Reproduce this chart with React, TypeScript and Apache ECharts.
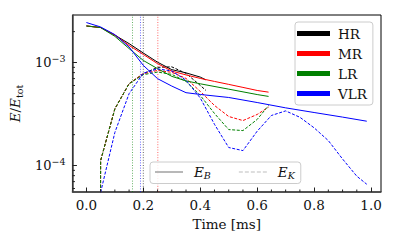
import React, { useEffect, useRef } from 'react';
import * as echarts from 'echarts';

// ---- data (time in ms, energy fraction) ----
const T_HR_B = [0, 0.05, 0.1, 0.15, 0.2, 0.25, 0.3, 0.35, 0.4, 0.42];
const HR_B = [2.27e-3, 2.19e-3, 1.85e-3, 1.53e-3, 1.24e-3, 1.01e-3, 8.55e-4, 7.96e-4, 7.24e-4, 6.8e-4];
const T_HR_K = [0.048, 0.05, 0.1, 0.15, 0.2, 0.25, 0.3, 0.35, 0.4, 0.42];
const HR_K = [1e-6, 1.12e-4, 3.56e-4, 6.25e-4, 7.81e-4, 9.0e-4, 9.1e-4, 7.87e-4, 6.01e-4, 5.37e-4];

const T_MR_B = [0, 0.05, 0.1, 0.15, 0.2, 0.25, 0.3, 0.35, 0.4, 0.45, 0.5, 0.55, 0.6, 0.64];
const MR_B = [2.27e-3, 2.19e-3, 1.85e-3, 1.47e-3, 1.2e-3, 9.78e-4, 8.28e-4, 7.6e-4, 7.03e-4, 6.57e-4, 6.15e-4, 5.75e-4, 5.37e-4, 5.17e-4];
const T_MR_K = [0.048, 0.05, 0.1, 0.15, 0.2, 0.25, 0.3, 0.35, 0.4, 0.45, 0.5, 0.55, 0.6, 0.64];
const MR_K = [1e-6, 1.12e-4, 3.56e-4, 6.25e-4, 7.81e-4, 8.41e-4, 8.05e-4, 7.03e-4, 5.26e-4, 3.84e-4, 3.0e-4, 2.74e-4, 3.14e-4, 3.7e-4];

const T_LR_B = [0, 0.05, 0.1, 0.15, 0.2, 0.25, 0.3, 0.35, 0.4, 0.5, 0.6, 0.64];
const LR_B = [2.27e-3, 2.19e-3, 1.8e-3, 1.37e-3, 1.05e-3, 8.74e-4, 7.36e-4, 6.65e-4, 6.23e-4, 5.53e-4, 4.9e-4, 4.7e-4];
const T_LR_K = [0.048, 0.05, 0.1, 0.15, 0.2, 0.25, 0.3, 0.35, 0.4, 0.45, 0.5, 0.55, 0.6, 0.64];
const LR_K = [1e-6, 1.12e-4, 3.56e-4, 6.25e-4, 7.64e-4, 8.1e-4, 7.69e-4, 6.58e-4, 4.81e-4, 3.21e-4, 2.24e-4, 2.19e-4, 2.81e-4, 3.84e-4];

const T_VLR_B = [0, 0.05, 0.1, 0.15, 0.2, 0.25, 0.3, 0.35, 0.4, 0.5, 0.6, 0.7, 0.8, 0.9, 0.985];
const VLR_B = [2.45e-3, 2.22e-3, 1.87e-3, 1.42e-3, 9.4e-4, 6.99e-4, 5.92e-4, 5.11e-4, 4.91e-4, 4.59e-4, 4.1e-4, 3.64e-4, 3.28e-4, 2.96e-4, 2.7e-4];
const T_VLR_K = [0.05, 0.1, 0.15, 0.2, 0.25, 0.3, 0.35, 0.4, 0.45, 0.5, 0.55, 0.6, 0.65, 0.7, 0.75, 0.8, 0.85, 0.9, 0.95, 0.985];
const VLR_K = [5.5e-5, 2.1e-4, 5.0e-4, 7.9e-4, 8.7e-4, 8.3e-4, 6.75e-4, 4.54e-4, 2.52e-4, 1.5e-4, 1.4e-4, 2.16e-4, 3.07e-4, 3.4e-4, 2.95e-4, 2.33e-4, 1.75e-4, 1.16e-4, 7.9e-5, 6.6e-5];

// characteristic times (vertical dotted lines)
const T_CHAR = [0.2, 0.251, 0.162, 0.19]; // HR, MR, LR, VLR

const RES_NAMES = ['HR', 'MR', 'LR', 'VLR'];
const RES_COLORS = ['#000000', '#ff0000', '#008000', '#0000ff'];

// axes
const X_MIN = -0.049;
const X_MAX = 1.035;
const Y_MIN = 5.55e-5;
const Y_MAX = 2.9e-3;
const X_TICKS = [0, 0.2, 0.4, 0.6, 0.8, 1.0];
const X_TICK_LABELS = ['0.0', '0.2', '0.4', '0.6', '0.8', '1.0'];
const X_MINOR = [0.05, 0.1, 0.15, 0.25, 0.3, 0.35, 0.45, 0.5, 0.55, 0.65, 0.7, 0.75, 0.85, 0.9, 0.95];
const Y_TICKS = [1e-4, 1e-3];
const Y_TICK_EXP = ['−4', '−3'];
const Y_MINOR = [6e-5, 7e-5, 8e-5, 9e-5, 2e-4, 3e-4, 4e-4, 5e-4, 6e-4, 7e-4, 8e-4, 9e-4, 2e-3];

const FONT = 'DejaVu Serif';
const FS = 13.5;

const zip = (t: number[], v: number[]) => t.map((x, i) => [x, v[i]]);

export default function App() {
  const ref = useRef<HTMLDivElement>(null);
  useEffect(() => {
    if (!ref.current) return;
    const chart = echarts.init(ref.current, null, { renderer: 'svg' });

    const solid = (name: string, color: string, t: number[], v: number[]) => ({
      name, type: 'line', data: zip(t, v), showSymbol: false, symbol: 'none', clip: true,
      color, lineStyle: { color, width: 1 }, z: 3,
    });
    const dashed = (name: string, color: string, t: number[], v: number[]) => ({
      name, type: 'line', data: zip(t, v), showSymbol: false, symbol: 'none', clip: true,
      color, lineStyle: { color, width: 1, type: [3, 1.6] }, z: 3,
    });
    const vline = (name: string, color: string, tc: number) => ({
      name, type: 'line', data: [[tc, Y_MIN], [tc, Y_MAX]], showSymbol: false, symbol: 'none', clip: true,
      color, lineStyle: { color, width: 0.8, type: [1, 1.6], opacity: 0.75 }, z: 2,
    });

    const series: any[] = [
      solid('HR-B', RES_COLORS[0], T_HR_B, HR_B),
      dashed('HR-K', RES_COLORS[0], T_HR_K, HR_K),
      vline('HR-t', RES_COLORS[0], T_CHAR[0]),
      solid('MR-B', RES_COLORS[1], T_MR_B, MR_B),
      dashed('MR-K', RES_COLORS[1], T_MR_K, MR_K),
      vline('MR-t', RES_COLORS[1], T_CHAR[1]),
      solid('LR-B', RES_COLORS[2], T_LR_B, LR_B),
      dashed('LR-K', RES_COLORS[2], T_LR_K, LR_K),
      vline('LR-t', RES_COLORS[2], T_CHAR[2]),
      solid('VLR-B', RES_COLORS[3], T_VLR_B, VLR_B),
      dashed('VLR-K', RES_COLORS[3], T_VLR_K, VLR_K),
      vline('VLR-t', RES_COLORS[3], T_CHAR[3]),
    ];
    RES_NAMES.forEach((n, i) => {
      series.push({ name: n, type: 'line', data: [], symbol: 'none', color: RES_COLORS[i], lineStyle: { color: RES_COLORS[i] } });
    });
    series.push({ name: 'E_B', type: 'line', data: [], symbol: 'none', color: '#a0a0a0' });
    series.push({ name: 'E_K', type: 'line', data: [], symbol: 'none', color: '#bdbdbd' });

    // minor ticks (log-style on y, 0.05 steps on x)
    series.push({
      type: 'custom', name: 'yminor', silent: true, clip: false, z: 6,
      data: Y_MINOR.map((v) => [0.5, v]),
      renderItem: (params: any, api: any) => {
        const cs = params.coordSys;
        const y = api.coord([0.5, api.value(1)])[1];
        return { type: 'line', shape: { x1: cs.x, y1: y, x2: cs.x + 2.5, y2: y }, style: { stroke: '#222', lineWidth: 1 } };
      },
    });
    series.push({
      type: 'custom', name: 'xminor', silent: true, clip: false, z: 6,
      data: X_MINOR.map((v) => [v, 1e-3]),
      renderItem: (params: any, api: any) => {
        const cs = params.coordSys;
        const x = api.coord([api.value(0), 1e-3])[0];
        const yb = cs.y + cs.height;
        return { type: 'line', shape: { x1: x, y1: yb, x2: x, y2: yb - 2.5 }, style: { stroke: '#222', lineWidth: 1 } };
      },
    });

    const dashIcon = 'path://M0,0h4v1h-4z M6,0h4v1h-4z M12,0h4v1h-4z M18,0h4v1h-4z M24,0h4v1h-4z';

    const option: any = {
      animation: false,
      backgroundColor: '#ffffff',
      grid: { left: 72, top: 15, width: 309, height: 177, show: true, borderColor: '#000', borderWidth: 1, backgroundColor: 'transparent' },
      xAxis: {
        type: 'value', min: X_MIN, max: X_MAX,
        axisLine: { show: true, onZero: false, lineStyle: { color: '#444', width: 1.5 } },
        axisTick: { show: true, inside: true, length: 4.5, lineStyle: { color: '#222', width: 1 } },
        axisLabel: {
          show: true, margin: 6, showMinLabel: false, showMaxLabel: false,
          fontFamily: FONT, fontSize: FS, color: '#111',
          formatter: (v: number) => {
            const i = X_TICKS.findIndex((t) => Math.abs(t - v) < 1e-9);
            return i >= 0 ? X_TICK_LABELS[i] : '';
          },
        },
        splitLine: { show: false },
        name: 'Time [ms]', nameLocation: 'middle', nameGap: 22,
        nameTextStyle: { fontFamily: FONT, fontSize: FS, color: '#111' },
      },
      yAxis: {
        type: 'log', logBase: 10, min: Y_MIN, max: Y_MAX,
        axisLine: { show: true, onZero: false, lineStyle: { color: '#444', width: 1.5 } },
        axisTick: { show: true, inside: true, length: 4.5, lineStyle: { color: '#222', width: 1 } },
        minorTick: { show: false },
        axisLabel: {
          show: true, margin: 7, showMinLabel: false, showMaxLabel: false,
          formatter: (v: number) => {
            const i = Y_TICKS.findIndex((t) => Math.abs(t - v) / t < 1e-6);
            return i >= 0 ? `{b|10}{s|${Y_TICK_EXP[i]}}` : '';
          },
          rich: {
            b: { fontFamily: FONT, fontSize: 13, color: '#111', lineHeight: 18 },
            s: { fontFamily: FONT, fontSize: 9.5, color: '#111', verticalAlign: 'top' },
          },
        },
        splitLine: { show: false },
        name: '{i|E}{n|/}{i|E}{sub|tot}', nameLocation: 'middle', nameGap: 36, nameRotate: 90,
        nameTextStyle: {
          rich: {
            i: { fontFamily: FONT, fontStyle: 'italic', fontSize: FS, color: '#111', lineHeight: 18 },
            n: { fontFamily: FONT, fontSize: FS, color: '#111', lineHeight: 18 },
            sub: { fontFamily: FONT, fontSize: 9.5, color: '#111', verticalAlign: 'bottom' },
          },
        },
      },
      legend: [
        {
          data: RES_NAMES, orient: 'vertical', left: 295, top: 22,
          icon: 'rect', itemWidth: 33, itemHeight: 5, itemGap: 5,
          padding: [4, 6, 4, 2], selectedMode: false,
          backgroundColor: 'rgba(255,255,255,0.85)', borderColor: '#cccccc', borderWidth: 1, borderRadius: 3,
          textStyle: { fontFamily: FONT, fontSize: FS, color: '#111', lineHeight: 15, padding: [0, 0, 0, 3] },
          z: 10,
        },
        {
          data: [
            { name: 'E_B', icon: 'rect' },
            { name: 'E_K', icon: dashIcon },
          ],
          orient: 'horizontal', left: 150, top: 162,
          itemWidth: 28, itemHeight: 1.5, itemGap: 28,
          padding: [3, 6, 3, 5], selectedMode: false,
          backgroundColor: 'rgba(255,255,255,0.85)', borderColor: '#cccccc', borderWidth: 1, borderRadius: 3,
          formatter: (name: string) => (name === 'E_B' ? '{i|E}{s|B}' : '{i|E}{s|K}'),
          textStyle: {
            padding: [0, 0, 0, 6],
            rich: {
              i: { fontFamily: FONT, fontStyle: 'italic', fontSize: FS, color: '#111', lineHeight: 17 },
              s: { fontFamily: FONT, fontStyle: 'italic', fontSize: 9.5, color: '#111', verticalAlign: 'bottom' },
            },
          },
          z: 10,
        },
      ],
      series,
    };
    chart.setOption(option);
    return () => chart.dispose();
  }, []);
  return <div ref={ref} style={{ position: 'fixed', left: 0, top: 0, width: 397, height: 245 }} />;
}
